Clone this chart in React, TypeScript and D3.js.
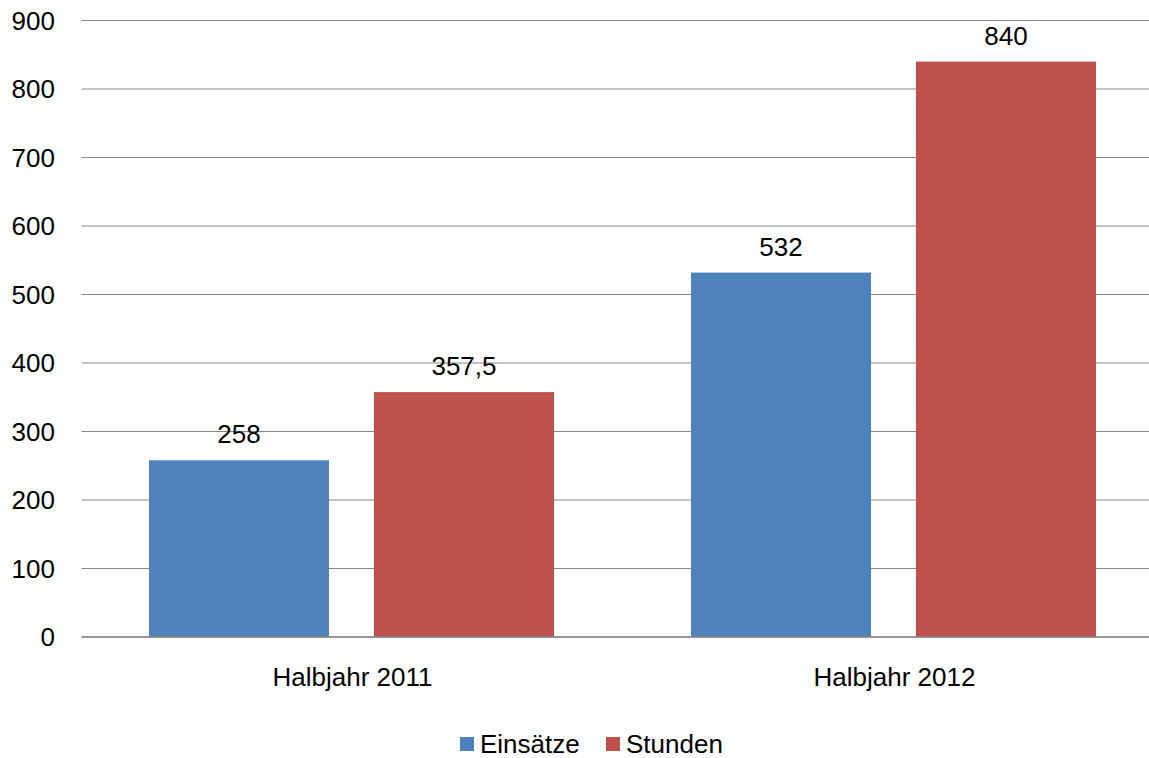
import React from "react";
import * as d3 from "d3";

const categories = ["Halbjahr 2011", "Halbjahr 2012"];
const seriesNames = ["Einsätze", "Stunden"];
const einsaetze = [258, 532];
const stunden = [357.5, 840];
const valueLabels = [["258", "532"], ["357,5", "840"]];
const yTicks = [0, 100, 200, 300, 400, 500, 600, 700, 800, 900];
const colors = ["#4F81BD", "#C0504D"];

const W = 1149;
const H = 758;
const FONT = "'Liberation Sans', Arial, sans-serif";
const FS = 26;

export default function App() {
  const left = 81.5;
  const right = 1165.5;
  const top = 20.5;
  const bottom = 637;
  const x0 = d3.scaleBand<string>().domain(categories).range([left, right]).paddingInner(0).paddingOuter(0);
  const catW = x0.bandwidth();
  const x1 = d3
    .scaleBand<string>()
    .domain(seriesNames)
    .range([catW * 0.1245, catW * 0.8718])
    .paddingInner(0.2);
  const y = d3.scaleLinear().domain([0, 900]).range([bottom, top]);
  const series = [einsaetze, stunden];

  return (
    <svg width={W} height={H} style={{ position: "absolute", left: 0, top: 0, background: "#fff" }} fontFamily={FONT}>
      {yTicks.map((t) => (
        <g key={t}>
          <line x1={left} x2={W} y1={y(t)} y2={y(t)} stroke="#878787" strokeWidth={1.2} />
          <text x={55} y={y(t)} dy="0.36em" textAnchor="end" fontSize={FS} fill="#000">
            {t}
          </text>
        </g>
      ))}
      {categories.map((c, ci) => (
        <g key={c} transform={`translate(${x0(c)},0)`}>
          {seriesNames.map((s, si) => {
            const v = series[si][ci];
            const bx = x1(s)!;
            return (
              <g key={s}>
                <rect x={bx} y={y(v)} width={x1.bandwidth()} height={y(0) - y(v)} fill={colors[si]} />
                <text x={bx + x1.bandwidth() / 2} y={y(v) - 17} textAnchor="middle" fontSize={FS} fill="#000">
                  {valueLabels[si][ci]}
                </text>
              </g>
            );
          })}
          <text x={catW / 2} y={686} textAnchor="middle" fontSize={FS} fill="#000">
            {c}
          </text>
        </g>
      ))}
      <line x1={left} x2={W} y1={bottom} y2={bottom} stroke="#878787" strokeWidth={1.5} />
      {seriesNames.map((s, i) => {
        const lx = i === 0 ? 460 : 606;
        return (
          <g key={s}>
            <rect x={lx} y={737} width={14} height={14} fill={colors[i]} />
            <text x={lx + 20} y={753} fontSize={FS} fill="#000">
              {s}
            </text>
          </g>
        );
      })}
    </svg>
  );
}
